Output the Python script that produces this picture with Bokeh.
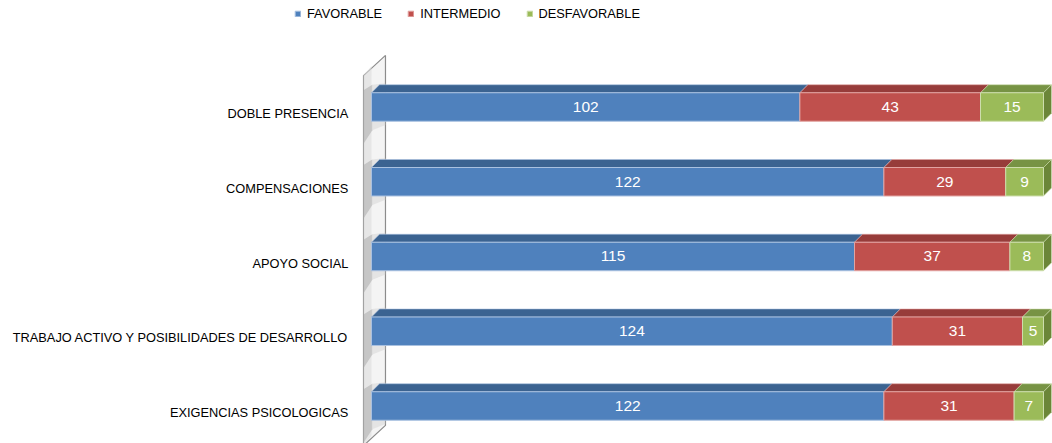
from bokeh.plotting import figure
from bokeh.models import Range1d, ColumnDataSource, Legend, LegendItem
from bokeh.embed import file_html
from bokeh.resources import INLINE
from bokeh.core.properties import value

# ---- data (bottom to top as in the source sheet) ----
categories = ["EXIGENCIAS PSICOLOGICAS",
              "TRABAJO ACTIVO Y POSIBILIDADES DE DESARROLLO",
              "APOYO SOCIAL",
              "COMPENSACIONES",
              "DOBLE PRESENCIA"]
favorable = [122, 124, 115, 122, 102]
intermedio = [31, 31, 37, 29, 43]
desfavorable = [7, 5, 8, 9, 15]
series_names = ["FAVORABLE", "INTERMEDIO", "DESFAVORABLE"]

# ---- styling ----
front_colors = ["#4F81BD", "#C0504D", "#9BBB59"]
top_colors = ["#3B6391", "#973C3A", "#779344"]
edge_colors = ["#A9C1E0", "#E2A3A1", "#CDDDAC"]
side_color = "#6B8638"
FONT = "Liberation Sans"

H = 0.381      # front face height (category units)
DX = 1.9       # depth offset in value units
DY = 0.107     # depth offset in category units

p = figure(width=1052, height=443,
           x_range=Range1d(-88.33, 162.14), y_range=Range1d(-0.5017, 5.4247),
           output_backend="svg", toolbar_location=None, min_border=0,
           x_axis_location=None, y_axis_location=None)
p.grid.visible = False
p.outline_line_color = None
p.background_fill_color = "white"
p.border_fill_color = "white"

ypos = list(range(len(categories)))

# ---- side wall ----
p.patch([-1.9, 3.33, 3.33, -1.9], [4.42, 4.69, -0.26, -0.53],
        fill_color="#F4F4F4", line_color="#8C8C8C", line_width=1.2)
p.patch([-1.9, 0.0, 0.0, -1.9], [4.42, 4.55, -0.40, -0.53],
        fill_color="#DCDCDC", fill_alpha=0.6, line_color=None)
for y in ypos:
    yt = y + H / 2
    yb = y - H / 2
    p.patch([-1.9, 0.2, 0.2, -1.9], [yt + DY * 0.3, yt + DY, yb - 0.12, yb - 0.30],
            fill_color="#A6A6A6", fill_alpha=0.5, line_color=None)
    p.patch([0.2, 3.33, 3.33, 0.2], [yt + DY, yt + DY * 1.2, yb - 0.05, yb - 0.12],
            fill_color="#D0D0D0", fill_alpha=0.45, line_color=None)

# ---- bars ----
series_vals = [favorable, intermedio, desfavorable]
lefts = [0] * len(categories)
renderers = []
for s, vals in enumerate(series_vals):
    rights = [l + v for l, v in zip(lefts, vals)]
    # top faces
    xs_top = [[l, r, r + DX, l + DX] for l, r in zip(lefts, rights)]
    ys_top = [[y + H / 2, y + H / 2, y + H / 2 + DY, y + H / 2 + DY] for y in ypos]
    p.patches(xs_top, ys_top, fill_color=top_colors[s], line_color=edge_colors[s],
              line_width=0.8, line_alpha=0.7)
    # right face of the last segment
    if s == len(series_vals) - 1:
        xs_side = [[r, r + DX, r + DX, r] for r in rights]
        ys_side = [[y - H / 2, y - H / 2 + DY, y + H / 2 + DY, y + H / 2] for y in ypos]
        p.patches(xs_side, ys_side, fill_color=side_color, line_color=edge_colors[s],
                  line_width=0.8, line_alpha=0.7)
    src = ColumnDataSource(dict(y=ypos, left=lefts, right=rights,
                                mid=[(l + r) / 2 for l, r in zip(lefts, rights)],
                                lab=[str(v) for v in vals]))
    r_ = p.hbar(y="y", left="left", right="right", height=H, source=src,
                fill_color=front_colors[s], line_color=edge_colors[s], line_width=1)
    renderers.append(r_)
    p.text(x="mid", y="y", text="lab", source=src, text_color="white",
           text_font=value(FONT), text_font_size="15.5px",
           text_align="center", text_baseline="middle")
    lefts = rights

# ---- category labels ----
lab_src = ColumnDataSource(dict(x=[-5.5] * len(categories),
                                y=[y - 0.087 for y in ypos], t=categories))
p.text(x="x", y="y", text="t", source=lab_src, text_color="black",
       text_font=value(FONT), text_font_size="12.8px",
       text_align="right", text_baseline="middle")

# ---- legend ----
legend = Legend(items=[LegendItem(label=n, renderers=[r]) for n, r in zip(series_names, renderers)],
                orientation="horizontal", location=(294, 422),
                glyph_width=7, glyph_height=7, label_standoff=6, spacing=25,
                padding=0, margin=0, label_height=12,
                label_text_font=FONT, label_text_font_size="12.8px",
                label_text_color="black",
                border_line_color=None, background_fill_alpha=0)
p.add_layout(legend)

open("out.html", "w").write(file_html(p, INLINE))
